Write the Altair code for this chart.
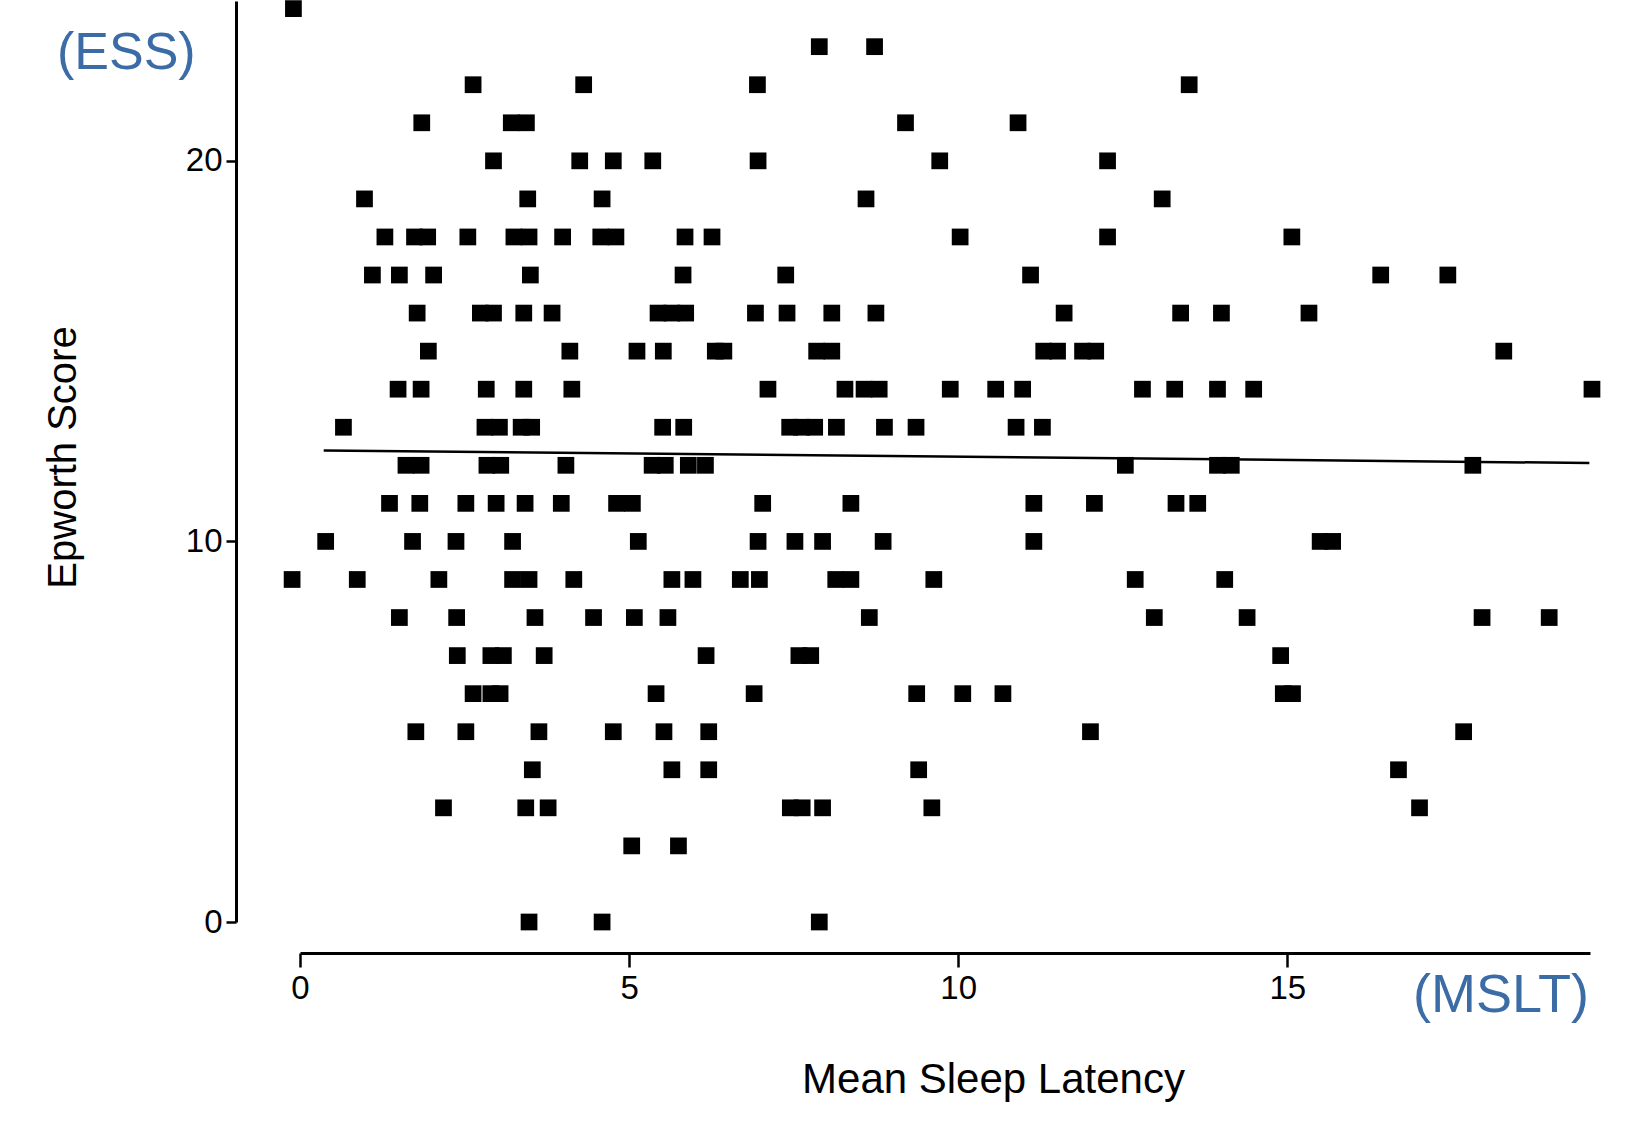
import altair as alt
import pandas as pd

# Mean sleep latency (MSLT, minutes) of each subject, grouped by Epworth score (ESS)
mslt_ess_24 = [-0.10]
mslt_ess_23 = [7.89, 8.73]
mslt_ess_22 = [2.63, 4.31, 6.95, 13.51]
mslt_ess_21 = [1.85, 3.21, 3.44, 9.20, 10.91]
mslt_ess_20 = [2.94, 4.25, 4.76, 5.36, 6.96, 9.72, 12.27]
mslt_ess_19 = [0.98, 3.46, 4.59, 8.60, 13.10]
mslt_ess_18 = [1.29, 1.74, 1.94, 2.55, 3.25, 3.48, 3.99, 4.57, 4.80, 5.85,
               6.26, 10.03, 12.27, 15.07]
mslt_ess_17 = [1.10, 1.51, 2.03, 3.50, 5.82, 7.38, 11.10, 16.42, 17.44]
mslt_ess_16 = [1.78, 2.74, 2.94, 3.40, 3.83, 5.44, 5.65, 5.86, 6.92, 7.40,
               8.08, 8.75, 11.61, 13.38, 14.00, 15.33]
mslt_ess_15 = [1.95, 4.10, 5.12, 5.52, 6.31, 6.44, 7.85, 8.08, 11.30, 11.51,
               11.89, 12.09, 18.29]
mslt_ess_14 = [1.49, 1.84, 2.83, 3.40, 4.13, 7.11, 8.28, 8.57, 8.80, 9.88,
               10.57, 10.98, 12.80, 13.29, 13.94, 14.49, 19.63]
mslt_ess_13 = [0.66, 2.81, 3.03, 3.36, 3.52, 5.51, 5.83, 7.44, 7.62, 7.82,
               8.15, 8.88, 9.36, 10.88, 11.28]
mslt_ess_12 = [1.61, 1.84, 2.84, 3.05, 4.04, 5.35, 5.55, 5.90, 6.16, 12.54,
               13.94, 14.15, 17.82]
mslt_ess_11 = [1.36, 1.82, 2.52, 2.98, 3.42, 3.97, 4.81, 5.05, 7.03, 8.37,
               11.15, 12.07, 13.31, 13.64]
mslt_ess_10 = [0.39, 1.71, 2.37, 3.23, 5.14, 6.96, 7.52, 7.94, 8.86, 11.15,
               15.50, 15.69]
mslt_ess_9 = [-0.12, 0.87, 2.11, 3.23, 3.48, 4.16, 5.65, 5.97, 6.69, 6.98,
              8.14, 8.37, 9.63, 12.69, 14.05]
mslt_ess_8 = [1.51, 2.38, 3.57, 4.46, 5.08, 5.59, 8.65, 12.98, 14.39, 17.96, 18.98]
mslt_ess_7 = [2.39, 2.90, 3.09, 3.71, 6.17, 7.58, 7.76, 14.90]
mslt_ess_6 = [2.63, 2.90, 3.04, 5.41, 6.90, 9.37, 10.07, 10.68, 14.94, 15.08]
mslt_ess_5 = [1.76, 2.52, 3.63, 4.76, 5.53, 6.21, 12.01, 17.68]
mslt_ess_4 = [3.53, 5.65, 6.21, 9.40, 16.69]
mslt_ess_3 = [2.18, 3.43, 3.77, 7.45, 7.63, 7.94, 9.60, 17.01]
mslt_ess_2 = [5.04, 5.75]
mslt_ess_0 = [3.48, 4.59, 7.89]

# Least-squares fit line (end points)
fit_mslt = [0.36, 19.59]
fit_ess = [12.39, 12.06]

# Axis tick values
x_ticks = [0, 5, 10, 15]
y_ticks = [0, 10, 20]

# Corner unit labels
ess_label = "(ESS)"
mslt_label = "(MSLT)"

groups = {
    24: mslt_ess_24, 23: mslt_ess_23, 22: mslt_ess_22, 21: mslt_ess_21,
    20: mslt_ess_20, 19: mslt_ess_19, 18: mslt_ess_18, 17: mslt_ess_17,
    16: mslt_ess_16, 15: mslt_ess_15, 14: mslt_ess_14, 13: mslt_ess_13,
    12: mslt_ess_12, 11: mslt_ess_11, 10: mslt_ess_10, 9: mslt_ess_9,
    8: mslt_ess_8, 7: mslt_ess_7, 6: mslt_ess_6, 5: mslt_ess_5,
    4: mslt_ess_4, 3: mslt_ess_3, 2: mslt_ess_2, 0: mslt_ess_0,
}
points = pd.DataFrame(
    [{"mslt": m, "ess": e} for e, ms in groups.items() for m in ms]
)
fit = pd.DataFrame({"mslt": fit_mslt, "ess": fit_ess})

FONT = "Liberation Sans, Arial, Helvetica, sans-serif"
W, H = 1290, 921
PAD_L, PAD_T = 300, 1

x_scale = alt.Scale(domain=[0, 19.6], nice=False, zero=False)
y_scale = alt.Scale(domain=[0, 24.2], nice=False, zero=False)

x_axis = alt.Axis(
    values=x_ticks, format="d", grid=False, offset=31,
    domainColor="black", domainWidth=3,
    tickColor="black", tickWidth=2.5, tickSize=14,
    labelFont=FONT, labelFontSize=33, labelColor="black", labelPadding=5,
    labelFlush=False,
    title="Mean Sleep Latency", titleFont=FONT, titleFontSize=42,
    titleFontWeight="normal", titleColor="black",
    titleX=693, titleY=139, titleAlign="center", titleBaseline="alphabetic",
)
y_axis = alt.Axis(
    values=y_ticks, format="d", grid=False, offset=64,
    domainColor="black", domainWidth=3,
    tickColor="black", tickWidth=2.5, tickSize=10,
    labelFont=FONT, labelFontSize=33, labelColor="black", labelPadding=4,
    labelFlush=False,
    title="Epworth Score", titleFont=FONT, titleFontSize=40,
    titleFontWeight="normal", titleColor="black", titleAngle=270,
    titleX=-161, titleY=456, titleAlign="center", titleBaseline="alphabetic",
)

scatter = alt.Chart(points).mark_square(size=280, color="black", opacity=1).encode(
    x=alt.X("mslt:Q", scale=x_scale, axis=x_axis),
    y=alt.Y("ess:Q", scale=y_scale, axis=y_axis),
)

fit_line = alt.Chart(fit).mark_line(color="black", strokeWidth=2.5).encode(
    x=alt.X("mslt:Q", scale=x_scale),
    y=alt.Y("ess:Q", scale=y_scale),
)

BLUE = "#3b6ca6"
ess_text = alt.Chart(pd.DataFrame({"label": [ess_label]})).mark_text(
    font=FONT, fontSize=52, color=BLUE, align="left", baseline="alphabetic"
).encode(text="label:N", x=alt.value(-243), y=alt.value(68))

mslt_text = alt.Chart(pd.DataFrame({"label": [mslt_label]})).mark_text(
    font=FONT, fontSize=54, color=BLUE, align="right", baseline="alphabetic"
).encode(text="label:N", x=alt.value(1289), y=alt.value(1011))

chart = (
    alt.layer(scatter, fit_line, ess_text, mslt_text)
    .properties(
        width=W, height=H,
        autosize=alt.AutoSizeParams(type="none"),
        padding={"left": PAD_L, "top": PAD_T, "right": 1631 - PAD_L - W,
                 "bottom": 1145 - PAD_T - H},
        background="white",
    )
    .configure_view(stroke=None)
)

chart.save("out.html", embed_options={"renderer": "svg", "actions": False})
